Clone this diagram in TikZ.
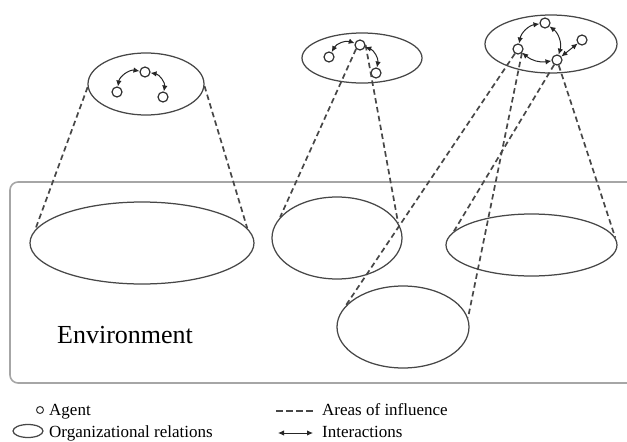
\documentclass[tikz,border=0pt]{standalone}
\usepackage{fontspec}
\setmainfont{Liberation Serif}
\usetikzlibrary{shapes.geometric,arrows.meta}
\begin{document}
\begin{tikzpicture}[x=1pt,y=-1pt,
  orgrel/.style={draw=black!72,line width=1.25pt,ellipse,inner sep=0pt},
  agent/.style={draw=black!80,line width=1.2pt,circle,fill=white,inner sep=0pt,minimum size=10pt},
  influence/.style={draw=black!72,line width=1.7pt,dash pattern=on 5.5pt off 3.5pt},
  interact/.style={draw=black!85,line width=1pt,{Latex[length=6pt,width=5.5pt]}-{Latex[length=6pt,width=5.5pt]}},
  envbox/.style={draw=black!35,line width=1.6pt,rounded corners=8pt},
  legendtext/.style={font=\fontsize{17}{20}\selectfont,anchor=base west,inner sep=0pt}
]
\useasboundingbox (0,0) rectangle (627,442);
\clip (0,0) rectangle (627,442);

% environment
\draw[envbox] (10,182) rectangle (660,383);
\node[anchor=base west,inner sep=0pt,font=\fontsize{26}{30}\selectfont] (envl) at (57,343) {Environment};

% organizational relations in the environment
\node[orgrel,minimum width=224pt,minimum height=82pt] (g1) at (142,243) {};
\node[orgrel,minimum width=130pt,minimum height=82pt] (g2) at (337,238) {};
\node[orgrel,minimum width=171pt,minimum height=62pt] (g3) at (531.5,245) {};
\node[orgrel,minimum width=132pt,minimum height=82pt] (g4) at (403,327) {};

% organizations of agents
\node[orgrel,minimum width=116pt,minimum height=62pt] (t1) at (146,84) {};
\node[orgrel,minimum width=120pt,minimum height=50pt] (t2) at (362,58) {};
\node[orgrel,minimum width=132pt,minimum height=58pt] (t3) at (551,44) {};

% agents
\node[agent] (A1) at (117,92) {};
\node[agent] (A2) at (145,72) {};
\node[agent] (A3) at (163,97) {};
\node[agent] (B1) at (329,57) {};
\node[agent] (B2) at (360,45) {};
\node[agent] (B3) at (376,73) {};
\node[agent] (C1) at (518,49) {};
\node[agent] (C2) at (545,23) {};
\node[agent] (C3) at (557,60) {};
\node[agent] (C4) at (582,40) {};

% areas of influence
\draw[influence] (t1.183) -- (g1.173);
\draw[influence] (t1.358) -- (g1.8);
\draw[influence] (B2.south west) -- (g2.160);
\draw[influence] (B2.east) -- (g2.14);
\draw[influence] (C1) -- (g4.160);
\draw[influence] (C1.south east) -- (g4.8);
\draw[influence] (C3) -- (g3.170);
\draw[influence] (C3) -- (g3.5);

% interactions
\draw[interact] (A1) to[bend left=45] (A2);
\draw[interact] (A2) to[bend left=45] (A3);
\draw[interact] (B1) to[bend left=40] (B2);
\draw[interact] (B2) to[bend left=40] (B3);
\draw[interact] (C1) to[bend left=35] (C2);
\draw[interact] (C2) to[bend left=35] (C3);
\draw[interact] (C1) to[bend right=25] (C3);
\draw[interact] (C3) -- (C4);

% legend
\node[agent,minimum size=7pt,line width=1pt] (la) at (40,410) {};
\node[legendtext] (lat) at (49,415) {Agent};
\node[orgrel,minimum width=30pt,minimum height=13pt] (lo) at (28,431) {};
\node[legendtext] (lot) at (49,437) {Organizational relations};
\coordinate (ld1) at (276,411);
\coordinate (ld2) at (313,411);
\draw[influence,dash pattern=on 7pt off 3pt] (ld1) -- (ld2);
\node[legendtext] (ldt) at (322,415) {Areas of influence};
\coordinate (li1) at (278,433);
\coordinate (li2) at (313,433);
\draw[interact] (li1) -- (li2);
\node[legendtext] (lit) at (322,437) {Interactions};
\end{tikzpicture}
\end{document}
